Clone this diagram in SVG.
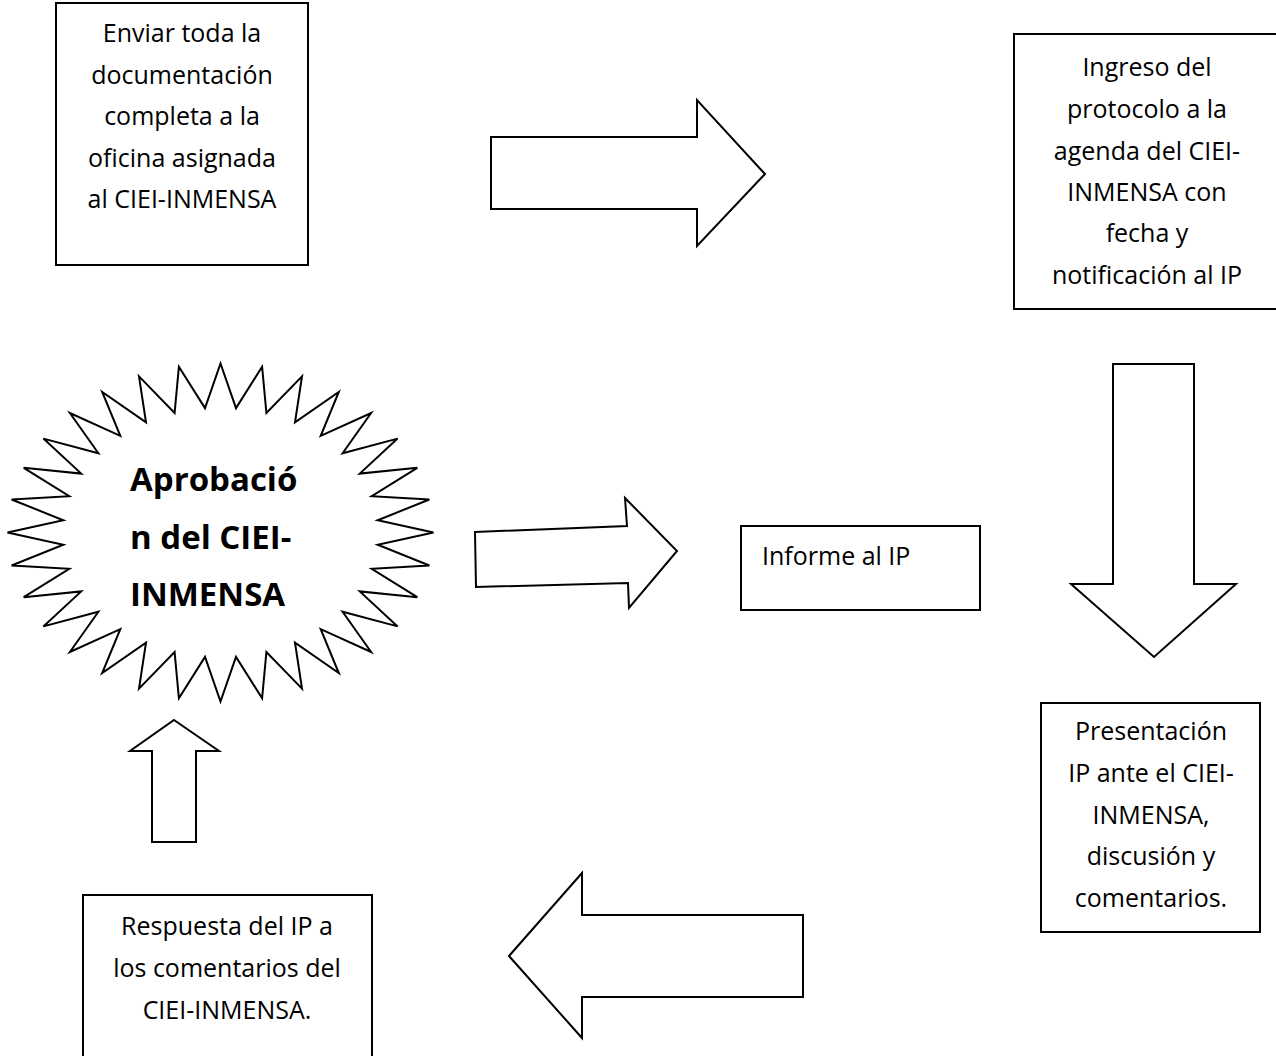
<svg xmlns="http://www.w3.org/2000/svg" width="1276" height="1056" viewBox="0 0 1276 1056">
<style>
.box{fill:#fff;stroke:#000;stroke-width:2}
.shape{fill:#fff;stroke:#000;stroke-width:2;stroke-linejoin:miter}
.t{font-family:"Open Sans","Liberation Sans",sans-serif;font-size:25px;fill:#000}
.c{text-anchor:middle}
.b{font-family:"Open Sans","Liberation Sans",sans-serif;font-size:33px;font-weight:bold;fill:#000}
</style>
<rect width="1276" height="1056" fill="#fff"/>
<g id="connectors">
<polygon class="shape" points="491,137 697,137 697,100 765,174 697,246 697,209 491,209"/>
<polygon class="shape" points="1113,364 1194,364 1194,584 1236,584 1154,657 1071,584 1113,584"/>
<polygon class="shape" points="509,956 582,873 582,915 803,915 803,997 582,997 582,1038"/>
<polygon class="shape" points="174,720 219,751 196,751 196,842 152,842 152,751 130,751"/>
<polygon class="shape" points="475,532 627,526 625,498 677,551 629,608 628,583 476,587"/>
</g>
<g id="node-enviar">
<rect class="box" x="56" y="3" width="252" height="262"/>
<text class="t c" x="182" y="42">Enviar toda la</text>
<text class="t c" x="182" y="83.5">documentación</text>
<text class="t c" x="182" y="125">completa a la</text>
<text class="t c" x="182" y="166.5">oficina asignada</text>
<text class="t c" x="182" y="208">al CIEI-INMENSA</text>
</g>
<g id="node-ingreso">
<rect class="box" x="1014" y="34" width="280" height="275"/>
<text class="t c" x="1147" y="76">Ingreso del</text>
<text class="t c" x="1147" y="118">protocolo a la</text>
<text class="t c" x="1147" y="160">agenda del CIEI-</text>
<text class="t c" x="1147" y="201">INMENSA con</text>
<text class="t c" x="1147" y="242">fecha y</text>
<text class="t c" x="1147" y="284">notificación al IP</text>
</g>
<g id="node-presentacion">
<rect class="box" x="1041" y="703" width="219" height="229"/>
<text class="t c" x="1151" y="740">Presentación</text>
<text class="t c" x="1151" y="782">IP ante el CIEI-</text>
<text class="t c" x="1151" y="824">INMENSA,</text>
<text class="t c" x="1151" y="865">discusión y</text>
<text class="t c" x="1151" y="907">comentarios.</text>
</g>
<g id="node-respuesta">
<rect class="box" x="83" y="895" width="289" height="180"/>
<text class="t c" x="227" y="935">Respuesta del IP a</text>
<text class="t c" x="227" y="977">los comentarios del</text>
<text class="t c" x="227" y="1019">CIEI-INMENSA.</text>
</g>
<g id="node-informe">
<rect class="box" x="741" y="526" width="239" height="84"/>
<text class="t" x="762" y="565">Informe al IP</text>
</g>
<g id="node-aprobacion">
<polygon class="shape" transform="translate(220.5,532.5)" points="213,0 157.2,-12.3 208.9,-33 151.2,-36.3 196.8,-64.7 139.3,-58.9 177.1,-93.9 122.1,-79.3 150.6,-119.5 100.2,-96.6 118.3,-140.5 74.5,-110.2 81.5,-156.1 45.9,-119.6 41.6,-165.8 15.5,-124.4 0,-169 -15.5,-124.4 -41.6,-165.8 -45.9,-119.6 -81.5,-156.1 -74.5,-110.2 -118.3,-140.5 -100.2,-96.6 -150.6,-119.5 -122.1,-79.3 -177.1,-93.9 -139.3,-58.9 -196.8,-64.7 -151.2,-36.3 -208.9,-33 -157.2,-12.3 -213,0 -157.2,12.3 -208.9,33 -151.2,36.3 -196.8,64.7 -139.3,58.9 -177.1,93.9 -122.1,79.3 -150.6,119.5 -100.2,96.6 -118.3,140.5 -74.5,110.2 -81.5,156.1 -45.9,119.6 -41.6,165.8 -15.5,124.4 0,169 15.5,124.4 41.6,165.8 45.9,119.6 81.5,156.1 74.5,110.2 118.3,140.5 100.2,96.6 150.6,119.5 122.1,79.3 177.1,93.9 139.3,58.9 196.8,64.7 151.2,36.3 208.9,33 157.2,12.3"/>
<text class="b" x="130" y="491">Aprobació</text>
<text class="b" x="130" y="549">n del CIEI-</text>
<text class="b" x="130" y="606">INMENSA</text>
</g>
</svg>
